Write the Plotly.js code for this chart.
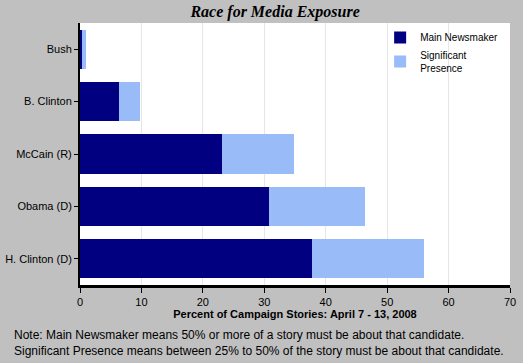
<!DOCTYPE html>
<html><head><meta charset="utf-8">
<script src="https://cdn.plot.ly/plotly-3.0.1.min.js"></script>
<style>html,body{margin:0;padding:0;background:#C0C0C0;}</style>
</head><body><div id="chart" style="width:523px;height:363px;"></div>
<script>
const categories = ['Bush','B. Clinton','McCain (R)','Obama (D)','H. Clinton (D)'];
const mainNewsmaker = [0.4, 6.3, 23.1, 30.8, 37.8];
const significantPresence = [0.6, 3.5, 11.7, 15.6, 18.2];
const xTicks = [0,10,20,30,40,50,60,70];

const font = {family:'Liberation Sans, Arial, sans-serif', size:11, color:'#000'};
const data = [
  {type:'bar', orientation:'h', name:'Main Newsmaker', y:categories, x:mainNewsmaker,
   marker:{color:'#000080', line:{width:0}}, hoverinfo:'skip'},
  {type:'bar', orientation:'h', name:'Significant<br>Presence', y:categories, x:significantPresence,
   marker:{color:'#99BBF7', line:{width:0}}, hoverinfo:'skip'}
];
const layout = {
  width:523, height:363,
  paper_bgcolor:'#C0C0C0', plot_bgcolor:'#FFFFFF',
  margin:{l:80, r:13, t:23, b:78, autoexpand:false},
  barmode:'stack', bargap:0.255,
  font:font,
  title:{text:'<b><i>Race for Media Exposure</i></b>', x:0.526, xanchor:'center', y:0.968, yanchor:'middle',
         font:{family:'Liberation Serif, Times New Roman, serif', size:16, color:'#000'}},
  showlegend:true,
  legend:{x:0.698, y:1.0, xanchor:'left', yanchor:'top', bgcolor:'rgba(0,0,0,0)', traceorder:'normal',
          font:{family:'Liberation Sans, Arial, sans-serif', size:10, color:'#000'}, itemwidth:30, tracegroupgap:0},
  xaxis:{range:[0,70], tickvals:xTicks, ticktext:xTicks.map(String), showgrid:true, gridcolor:'#E6E6E6', gridwidth:1,
         zeroline:false, showline:true, linecolor:'#000', linewidth:3, ticks:'outside', ticklen:5, tickcolor:'#000',
         tickfont:font, fixedrange:true,
         title:{text:'<b>Percent of Campaign Stories: April 7 - 13, 2008</b>', font:{family:'Liberation Sans, Arial, sans-serif', size:11, color:'#000'}, standoff:4}},
  yaxis:{categoryorder:'array', categoryarray:categories, autorange:'reversed', showgrid:false, zeroline:false,
         showline:true, linecolor:'#000', linewidth:2, ticks:'outside', ticklen:4, tickcolor:'#000', tickfont:font,
         fixedrange:true},
  annotations:[
    {text:'Note: Main Newsmaker means 50% or more of a story must be about that candidate.<br>Significant Presence means between 25% to 50% of the story must be about that candidate.',
     xref:'paper', yref:'paper', x:-0.158, y:-0.157, xanchor:'left', yanchor:'top', align:'left', showarrow:false,
     font:{family:'Liberation Sans, Arial, sans-serif', size:12, color:'#000'}}
  ]
};
Plotly.newPlot('chart', data, layout, {displayModeBar:false, staticPlot:true});
</script></body></html>
